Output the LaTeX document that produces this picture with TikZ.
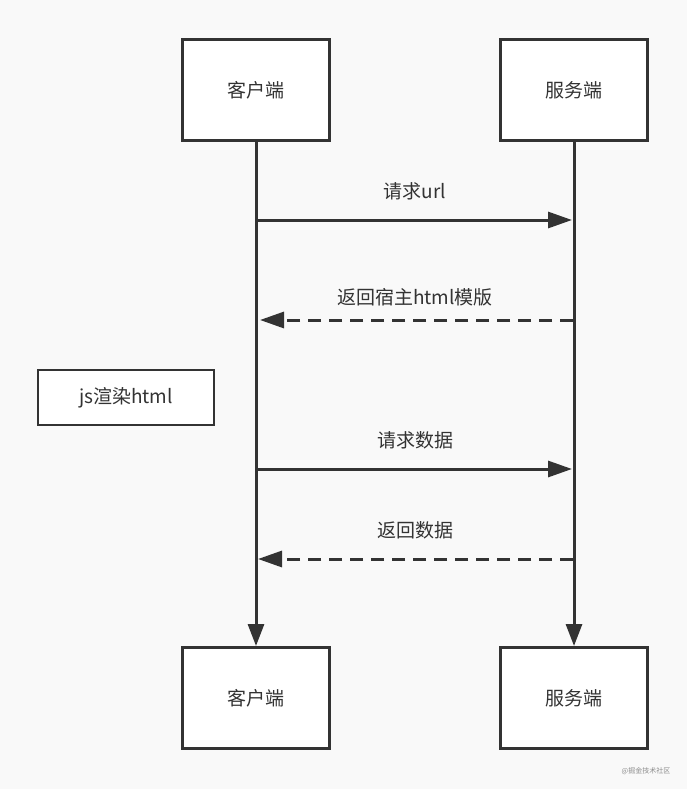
\documentclass[tikz,border=0pt]{standalone}
\usepackage{fontspec}
\setmainfont{Noto Sans CJK SC}
\usetikzlibrary{arrows.meta}
\definecolor{ink}{HTML}{333333}
\definecolor{bg}{HTML}{F9F9F9}
\begin{document}
\begin{tikzpicture}[x=1pt,y=-1pt,
  actor/.style={draw=ink,line width=3pt,fill=white,minimum width=147pt,minimum height=101pt,inner sep=0pt,font=\fontsize{19}{21}\selectfont,text=ink},
  note/.style={draw=ink,line width=2.5pt,fill=white,minimum width=176pt,minimum height=55pt,inner sep=0pt,font=\fontsize{19}{21}\selectfont,text=ink},
  life/.style={draw=ink,line width=3pt,-{Triangle[length=22pt,width=16pt]}},
  msg/.style={draw=ink,line width=3pt,-{Triangle[length=24pt,width=16pt]}},
  reply/.style={msg,dash pattern=on 13pt off 8pt},
  lbl/.style={font=\fontsize{19}{21}\selectfont,text=ink,inner sep=0pt}]
\fill[bg] (0,0) rectangle (687,789);
\useasboundingbox (0,0) rectangle (687,789);
\node[actor] (c1) at (256,90) {\raisebox{-2pt}{客户端}};
\node[actor] (s1) at (574,90) {\raisebox{-2pt}{服务端}};
\node[actor] (c2) at (256,698) {\raisebox{-2pt}{客户端}};
\node[actor] (s2) at (574,698) {\raisebox{-2pt}{服务端}};
\node[note] (js) at (126,397.5) {\raisebox{-2pt}{js渲染html}};
\draw[life] (c1.south) -- (c2.north);
\draw[life] (s1.south) -- (s2.north);
\coordinate (a1) at (256,220); \coordinate (b1) at (572,220);
\coordinate (a2) at (260,320); \coordinate (b2) at (573,320);
\coordinate (a3) at (256,469); \coordinate (b3) at (572,469);
\coordinate (a4) at (258,559); \coordinate (b4) at (573,559);
\draw[msg] (a1) -- (b1);
\draw[reply] (b2) -- (a2);
\draw[msg] (a3) -- (b3);
\draw[reply] (b4) -- (a4);
\node[lbl] (l1) at (415,191) {请求url};
\node[lbl] (l2) at (415,297) {返回宿主html模版};
\node[lbl] (l3) at (415,440) {请求数据};
\node[lbl] (l4) at (415,530) {返回数据};
\node[font=\fontsize{7}{8}\selectfont,text=black!45,inner sep=0pt] (wm) at (646,771) {@掘金技术社区};
\end{tikzpicture}
\end{document}
